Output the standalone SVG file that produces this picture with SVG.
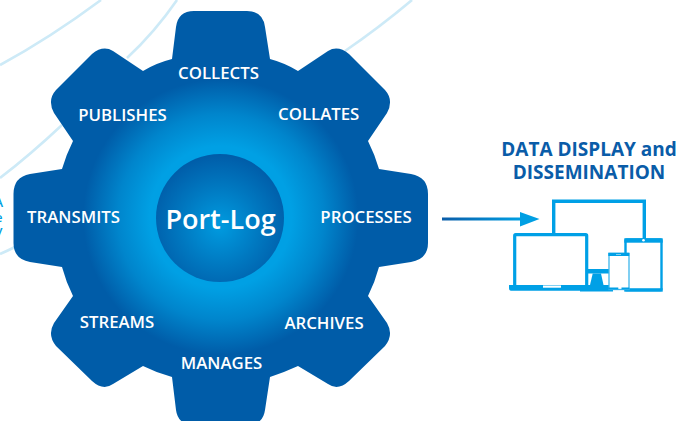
<svg xmlns="http://www.w3.org/2000/svg" width="691" height="421" viewBox="0 0 691 421">
<style>
.bg{fill:none;stroke:#cdeaf7;stroke-width:2.6}
.lbl{font-family:"Open Sans","Noto Sans","Liberation Sans",sans-serif;font-weight:600;font-size:16.8px;fill:#fff;text-anchor:middle}
.ttl{font-family:"Open Sans","Noto Sans","Liberation Sans",sans-serif;font-weight:700;font-size:19px;fill:#0a5ca8;text-anchor:middle}
.frag{font-family:"Open Sans","Noto Sans","Liberation Sans",sans-serif;font-weight:600;font-size:13px;fill:#009fe3;text-anchor:end}
.dev{fill:#fff;stroke:#00a0e6;stroke-width:3.2}
.fill{fill:#00a0e6}
</style>
<defs>
<radialGradient id="gearFill" gradientUnits="userSpaceOnUse" cx="220.7" cy="217" r="215">
<stop offset="0.33" stop-color="#00a0e4"/>
<stop offset="0.48" stop-color="#0085cc"/>
<stop offset="0.64" stop-color="#005ca8"/>
<stop offset="1" stop-color="#005ca8"/>
</radialGradient>
<radialGradient id="hubFill" gradientUnits="userSpaceOnUse" cx="220" cy="226" r="72">
<stop offset="0.05" stop-color="#0098dd"/>
<stop offset="0.55" stop-color="#0078c0"/>
<stop offset="1" stop-color="#005ca8"/>
</radialGradient>
<linearGradient id="arrowFill" gradientUnits="userSpaceOnUse" x1="442" y1="0" x2="540" y2="0">
<stop offset="0" stop-color="#0a5ca8"/>
<stop offset="0.8" stop-color="#009fe3"/>
</linearGradient>
</defs>
<g id="background-lines">
<path class="bg" d="M0 65Q50 38 101 0"/>
<path class="bg" d="M127 58Q155 32 177 0"/>
<path class="bg" d="M62 125Q30 155 0 178"/>
<path class="bg" d="M15 247Q7 251 0 254"/>
<path class="bg" d="M345 51Q380 27 412 0"/>
</g>
<g id="edge-fragment">
<text class="frag" x="3" y="207">A</text>
<text class="frag" x="2.500" y="222">e</text>
<text class="frag" x="2.500" y="235">y</text>
</g>
<g id="gear">
<path fill="url(#gearFill)" d="M172 59L176 27Q178 11 194 11H247Q263 11 265 27L270 59Q285 63 298 71L328 51Q338 45 349 54L385 90Q394 100 387 113L368 141Q375 155 379 169L411 174Q428 177 428 194V243Q428 259 411 262L379 267Q375 282 368 296L387 323Q394 335 385 346L349 381Q338 391 328 384L298 366Q285 372 270 377L265 410Q263 425 247 425H194Q178 425 176 410L172 377Q157 373 143 366L113 384Q103 391 92 381L56 346Q47 335 54 323L73 296Q66 282 62 267L30 262Q13.500 259 13.500 243V194Q13.500 177 30 174L62 169Q66 155 73 141L54 113Q47 100 56 90L92 54Q103 45 113 51L143 71Q156 63 172 59Z"/>
</g>
<g id="hub">
<circle cx="220" cy="218" r="64" fill="url(#hubFill)"/>
<text x="220.500" y="229" style="font-family:'Open Sans','Noto Sans','Liberation Sans',sans-serif;font-weight:600;font-size:27px;fill:#fff;text-anchor:middle">Port-Log</text>
</g>
<g id="collects"><text class="lbl" x="218.500" y="79">COLLECTS</text></g>
<g id="collates"><text class="lbl" x="318.700" y="119.500">COLLATES</text></g>
<g id="processes"><text class="lbl" x="366" y="222.500">PROCESSES</text></g>
<g id="archives"><text class="lbl" x="324" y="329">ARCHIVES</text></g>
<g id="manages"><text class="lbl" x="221.500" y="369">MANAGES</text></g>
<g id="streams"><text class="lbl" x="117" y="327.500">STREAMS</text></g>
<g id="transmits"><text class="lbl" x="73.500" y="222.500">TRANSMITS</text></g>
<g id="publishes"><text class="lbl" x="122.500" y="120.500">PUBLISHES</text></g>
<g id="title">
<text class="ttl" x="589" y="155.500">DATA DISPLAY and</text>
<text class="ttl" x="589" y="179">DISSEMINATION</text>
</g>
<g id="connectors">
<path d="M442 217.500H520V212L539.500 219L520 226.500V220.500H442Z" fill="url(#arrowFill)"/>
</g>
<g id="devices">
<path d="M553.700 236V201.200H644.300V240" fill="none" stroke="#00a0e6" stroke-width="3.400"/>
<rect class="fill" x="588" y="269" width="21" height="4.500"/>
<path class="fill" d="M592.700 273.500H601L603.500 285H590Z"/>
<rect class="fill" x="580" y="285" width="33" height="6.500"/>
<rect class="dev" x="514.700" y="234.700" width="72" height="52" rx="1"/>
<path class="fill" d="M509 285H592V290.800H511Q509 290.800 509 288Z"/>
<rect x="543" y="285.500" width="18" height="2.200" fill="#fff"/>
<rect x="625.500" y="239.500" width="36" height="50.500" rx="1" fill="#fff" stroke="#00a0e6" stroke-width="2.400"/>
<rect class="fill" x="624.300" y="238.300" width="38.400" height="4.400"/>
<rect class="fill" x="624.300" y="288.300" width="38.400" height="3.400"/>
<circle cx="643.500" cy="240.300" r="1.300" fill="#fff"/>
<rect x="609" y="253.500" width="20" height="36" fill="#fff" stroke="#3cb6ec" stroke-width="1.300"/>
<rect class="fill" x="608.300" y="252.700" width="21" height="3.300"/>
<rect class="fill" x="608.300" y="287.500" width="10" height="1.800"/>
<rect class="fill" x="621.500" y="287.500" width="7.800" height="1.800"/>
<rect x="616" y="254" width="5" height="1" fill="#7fd0f2"/>
</g>
</svg>
